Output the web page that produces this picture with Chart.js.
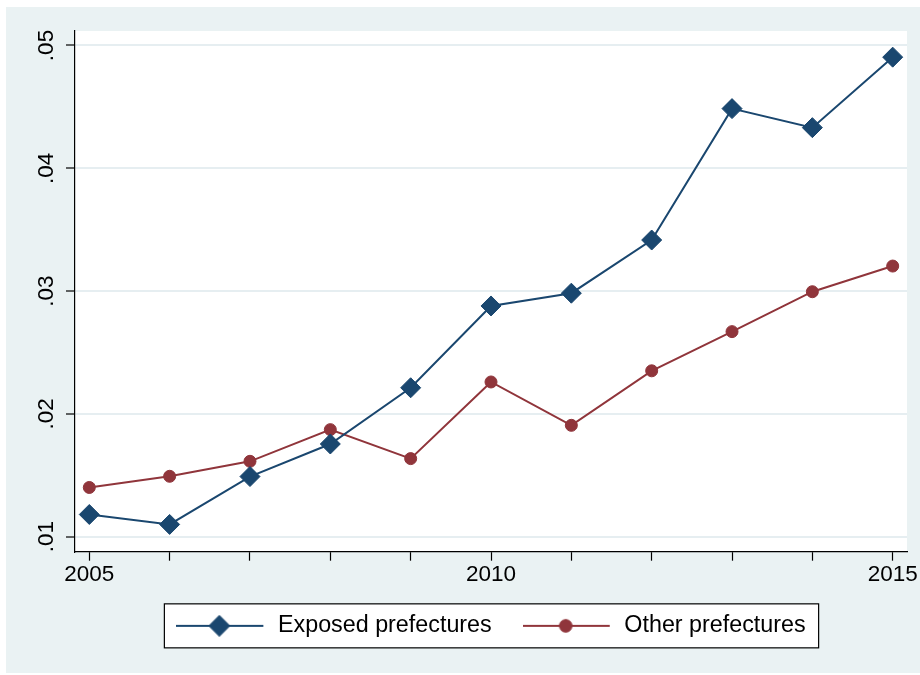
<!DOCTYPE html>
<html>
<head>
<meta charset="utf-8">
<title>Exposed vs other prefectures</title>
<script src="https://cdn.jsdelivr.net/npm/chart.js"></script>
<style>
  body { margin: 0; background: #ffffff; }
  #chart { display: block; }
</style>
</head>
<body>
<canvas id="chart" width="920" height="675"></canvas>

<script type="text/javascript">
// data
var years = [2005, 2006, 2007, 2008, 2009, 2010, 2011, 2012, 2013, 2014, 2015];
var exposed = [0.01181, 0.01100, 0.01490, 0.01755, 0.02213, 0.02879, 0.02983, 0.03416, 0.04486, 0.04331, 0.04905];
var other = [0.01401, 0.01492, 0.01614, 0.01872, 0.01636, 0.02260, 0.01907, 0.02351, 0.02670, 0.02995, 0.03204];
var yTicks = [0.01, 0.02, 0.03, 0.04, 0.05];
var xLabelYears = [2005, 2010, 2015];
var seriesNames = ['Exposed prefectures', 'Other prefectures'];

var navy = '#1A476F';
var maroon = '#90353B';
var bgColor = '#EAF2F3';
var gridColor = '#E6EEF1';
var fontFamily = '"Liberation Sans", Arial, Helvetica, sans-serif';

function toPoints(vals) {
  return years.map(function(y, i) { return {x: y, y: vals[i]}; });
}

// line + marker sample for the legend
function legendIcon(color, style, r) {
  var c = document.createElement('canvas');
  c.width = 90; c.height = 22;
  var g = c.getContext('2d');
  g.strokeStyle = color;
  g.lineWidth = 2;
  g.beginPath(); g.moveTo(0, 11); g.lineTo(87, 11); g.stroke();
  g.fillStyle = color;
  g.strokeStyle = color;
  g.lineWidth = 1;
  Chart.helpers.drawPoint(g, {pointStyle: style, radius: r, rotation: 0, borderWidth: 1}, 43, 11);
  return c;
}

function legendFrame(chart) {
  var lg = chart.legend;
  if (!lg || !lg.legendHitBoxes.length) return null;
  var hb = lg.legendHitBoxes;
  var first = hb[0], last = hb[hb.length - 1];
  var cy = first.top + first.height / 2;
  var left = first.left - 12;
  return {x: left, y: cy - 22, w: last.left + last.width + 13 - left, h: 44};
}

var background = {
  id: 'background',
  beforeDraw: function(chart) {
    var ctx = chart.ctx, a = chart.chartArea;
    ctx.save();
    ctx.fillStyle = bgColor;
    ctx.fillRect(6, 7, chart.width - 6, chart.height - 9);
    ctx.fillStyle = '#ffffff';
    ctx.fillRect(a.left, a.top, a.right - a.left, a.bottom - a.top);
    var f = legendFrame(chart);
    if (f) ctx.fillRect(f.x, f.y, f.w, f.h);
    ctx.restore();
  },
  afterDraw: function(chart) {
    var f = legendFrame(chart);
    if (!f) return;
    var ctx = chart.ctx;
    ctx.save();
    ctx.strokeStyle = '#000000';
    ctx.lineWidth = 1.2;
    ctx.strokeRect(f.x, f.y, f.w, f.h);
    ctx.restore();
  }
};

var ctx = document.getElementById('chart');
var myChart = new Chart(ctx, {
  type: 'line',
  data: {
    datasets: [{
      label: seriesNames[0],
      data: toPoints(exposed),
      borderColor: navy,
      backgroundColor: navy,
      borderWidth: 2,
      pointStyle: 'rectRot',
      pointRadius: 10,
      pointBorderWidth: 1,
      pointBorderColor: navy,
      pointBackgroundColor: navy,
      tension: 0
    }, {
      label: seriesNames[1],
      data: toPoints(other),
      borderColor: maroon,
      backgroundColor: maroon,
      borderWidth: 2,
      pointStyle: 'circle',
      pointRadius: 6,
      pointBorderWidth: 1,
      pointBorderColor: maroon,
      pointBackgroundColor: maroon,
      tension: 0
    }]
  },
  options: {
    responsive: false,
    animation: false,
    layout: { padding: { left: 0, top: 31, right: 13, bottom: 27.5 } },
    scales: {
      x: {
        type: 'linear',
        min: 2004.822,
        max: 2015.178,
        afterBuildTicks: function(scale) {
          scale.ticks = years.map(function(v) { return {value: v}; });
        },
        afterFit: function(scale) { scale.height = 31.5; },
        ticks: {
          color: '#000000',
          font: { family: fontFamily, size: 22.5 },
          padding: 1,
          maxRotation: 0,
          autoSkip: false,
          callback: function(v) { return xLabelYears.indexOf(v) >= 0 ? String(v) : ''; }
        },
        grid: {
          drawOnChartArea: false,
          drawTicks: true,
          tickLength: 9,
          tickColor: '#000000',
          tickWidth: 1.2
        },
        border: { display: true, color: '#000000', width: 1.2 }
      },
      y: {
        type: 'linear',
        min: 0.00878,
        max: 0.05118,
        afterBuildTicks: function(scale) {
          scale.ticks = yTicks.map(function(v) { return {value: v}; });
        },
        afterFit: function(scale) { scale.width = 75; },
        ticks: {
          color: '#000000',
          font: { family: fontFamily, size: 22.5 },
          minRotation: 90,
          maxRotation: 90,
          crossAlign: 'center',
          padding: 4,
          callback: function(v) { return '.0' + Math.round(v * 100); }
        },
        grid: {
          color: gridColor,
          lineWidth: 2,
          drawTicks: true,
          tickLength: 9,
          tickColor: '#000000',
          tickWidth: 1.2
        },
        border: { display: true, color: '#000000', width: 1.2 }
      }
    },
    plugins: {
      legend: {
        position: 'bottom',
        fullSize: false,
        labels: {
          usePointStyle: true,
          pointStyleWidth: 90,
          padding: 31,
          color: '#000000',
          font: { family: fontFamily, size: 23.3 },
          generateLabels: function(chart) {
            return [
              { text: seriesNames[0], pointStyle: legendIcon(navy, 'rectRot', 10.5), fillStyle: navy, strokeStyle: navy, lineWidth: 0, datasetIndex: 0, fontColor: '#000000' },
              { text: seriesNames[1], pointStyle: legendIcon(maroon, 'circle', 6.3), fillStyle: maroon, strokeStyle: maroon, lineWidth: 0, datasetIndex: 1, fontColor: '#000000' }
            ];
          }
        }
      },
      tooltip: { enabled: false }
    }
  },
  plugins: [background]
});
</script>
</body>
</html>
